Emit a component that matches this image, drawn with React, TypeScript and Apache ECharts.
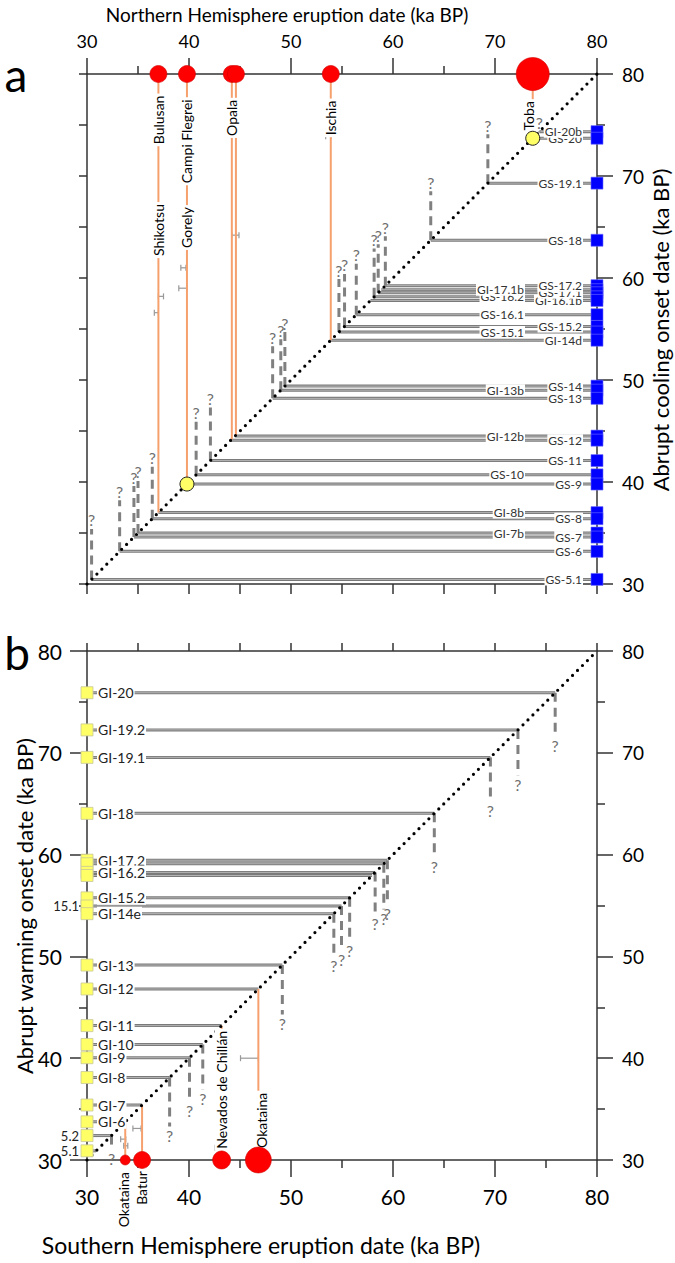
import React, { useEffect, useRef } from "react";
import * as echarts from "echarts";

// ---------------- axes ----------------
const axisMin = 30;
const axisMax = 80;
const majorStep = 10;
const minorStep = 5;

// ---------------- Panel a : abrupt cooling onsets (ka BP) ----------------
const coolLabels = ["GI-20b", "GS-20", "GS-19.1", "GS-18", "GS-17.2", "GI-17.1b", "GS-17.1", "GS-16.2", "GI-16.1b", "GS-16.1", "GS-15.2", "GS-15.1", "GI-14d", "GS-14", "GI-13b", "GS-13", "GI-12b", "GS-12", "GS-11", "GS-10", "GS-9", "GI-8b", "GS-8", "GI-7b", "GS-7", "GS-6", "GS-5.1"];
const coolOnsets = [74.35, 73.7, 69.3, 63.7, 59.25, 58.85, 58.55, 58.15, 57.8, 56.4, 55.25, 54.7, 53.9, 49.4, 49.0, 48.2, 44.5, 44.1, 42.1, 40.7, 39.8, 37.0, 36.4, 35.0, 34.6, 33.2, 30.45];
const coolLabelSide = ["r", "r", "r", "r", "r", "l", "r", "l", "r", "l", "r", "l", "r", "r", "l", "r", "l", "r", "r", "l", "r", "l", "r", "l", "r", "r", "r"];

// unmatched cooling events: dashed line from diagonal up to "?"
const coolDashOnset = [30.45, 33.2, 34.6, 35.0, 36.4, 40.7, 42.1, 48.2, 49.0, 49.4, 54.7, 55.25, 56.4, 58.15, 58.55, 59.25, 63.7, 69.3, 74.35];
const coolDashTop = [35.4, 38.2, 39.6, 40.1, 41.5, 45.9, 47.3, 53.3, 54.0, 54.7, 59.9, 60.4, 61.4, 62.9, 63.3, 64.1, 68.5, 74.1, 74.4];

// Northern Hemisphere eruptions
const nhEruptionDates = [37.0, 39.8, 44.2, 44.6, 53.9, 73.7];
const nhCircleSizes = [17, 17, 17, 17, 17, 33];
const nhNames = ["Bulusan", "Shikotsu", "Campi Flegrei", "Gorely", "Opala", "Ischia", "Toba"];
const nhNameDates = [37.0, 37.0, 39.8, 39.8, 44.2, 53.9, 73.3];
const nhNameHeights = [75.5, 64.7, 73.4, 64.95, 75.7, 75.7, 75.9];
const nhYellowDates = [73.7, 39.8];
const nhErrLo = [36.6, 37.0, 39.2, 39.0, 44.2, 53.4];
const nhErrHi = [37.0, 37.5, 39.7, 39.8, 44.9, 53.9];
const nhErrAt = [56.6, 58.2, 61.0, 59.0, 64.2, 73.9];

// ---------------- Panel b : abrupt warming onsets (ka BP) ----------------
const warmLabels = ["GI-20", "GI-19.2", "GI-19.1", "GI-18", "GI-17.2", "", "GI-16.2", "", "GI-15.2", "15.1", "GI-14e", "GI-13", "GI-12", "GI-11", "GI-10", "GI-9", "GI-8", "GI-7", "GI-6", "5.2", "5.1"];
const warmOnsets = [75.9, 72.25, 69.55, 64.05, 59.45, 59.1, 58.25, 57.95, 55.75, 54.95, 54.2, 49.15, 46.8, 43.2, 41.35, 40.05, 38.1, 35.4, 33.75, 32.4, 30.9];
const warmLabelSide = ["r", "r", "r", "r", "r", "r", "r", "r", "r", "l", "r", "r", "r", "r", "r", "r", "r", "r", "r", "l", "l"];

const warmDashOnset = [75.9, 72.25, 69.55, 64.05, 59.45, 59.1, 58.25, 55.75, 54.95, 54.2, 49.15, 41.35, 40.05, 38.1, 32.4];
const warmDashBottom = [71.6, 67.8, 65.2, 59.7, 55.1, 54.6, 54.1, 51.5, 50.6, 50.0, 44.3, 36.9, 35.7, 33.3, 31.0];

// Southern Hemisphere eruptions
const shEruptionDates = [33.75, 35.4, 43.2, 46.8];
const shCircleSizes = [10, 17, 18, 26];
const shNames = ["Okataina", "Batur", "Nevados de Chillán", "Okataina"];
const shNameDates = [33.6, 35.35, 43.2, 47.1];
const shNameHeights = [26.1, 27.25, 36.9, 33.9];
const shErrLo = [45.05, 42.55, 34.5, 33.3, 33.6];
const shErrHi = [46.8, 43.3, 35.3, 33.8, 34.0];
const shErrAt = [40.0, 31.2, 33.1, 32.05, 31.4];

// ---------------- styles ----------------
const FONT = "Lato, 'Open Sans', sans-serif";
const AXIS_COLOR = "#333";
const ORANGE = "#f6a06e";
const GREY = "#808080";

const axisLine = { color: AXIS_COLOR, width: 1.5 };

function valueAxis(extra: any) {
  return {
    type: "value",
    min: axisMin,
    max: axisMax,
    axisLine: { show: true, onZero: false, lineStyle: axisLine },
    splitLine: { show: false },
    minorSplitLine: { show: false },
    ...extra,
  };
}
const ticks = (len: number) => ({ show: true, length: len, lineStyle: axisLine });
const minor = (len: number) => ({ show: true, splitNumber: majorStep / minorStep, length: len, lineStyle: axisLine });
const labels = (size: number, margin: number) => ({ show: true, fontFamily: FONT, fontSize: size, color: "#000", margin });

function segSeries(xi: number, yi: number, segs: number[][], style: any, z: number, doubled = false) {
  return {
    type: "custom",
    xAxisIndex: xi,
    yAxisIndex: yi,
    z,
    silent: true,
    data: segs,
    renderItem: (_p: any, api: any) => {
      const a = api.coord([api.value(0), api.value(1)]);
      const b = api.coord([api.value(2), api.value(3)]);
      const shape = { x1: a[0], y1: a[1], x2: b[0], y2: b[1] };
      if (doubled) {
        return {
          type: "group",
          children: [
            { type: "line", shape, style: { stroke: "#7a7a7a", lineWidth: 3 } },
            { type: "line", shape, style: { stroke: "#c4c4c4", lineWidth: 0.8 } },
          ],
        };
      }
      return { type: "line", shape, style };
    },
  };
}

function textSeries(xi: number, yi: number, pts: number[][], texts: string[], styleOf: (i: number) => any, z: number) {
  return {
    type: "custom",
    xAxisIndex: xi,
    yAxisIndex: yi,
    z,
    silent: true,
    data: pts,
    renderItem: (params: any, api: any) => {
      const p = api.coord([api.value(0), api.value(1)]);
      const s = styleOf(params.dataIndex);
      return {
        type: "text",
        x: p[0] + (s.dx || 0),
        y: p[1] + (s.dy || 0),
        rotation: s.rotation || 0,
        style: {
          text: texts[params.dataIndex],
          font: s.font,
          fill: s.fill || "#000",
          align: s.align || "center",
          verticalAlign: s.verticalAlign || "middle",
          backgroundColor: s.bg,
          padding: s.padding,
        },
      };
    },
  };
}

function dashSeries(xi: number, yi: number, onsets: number[], ends: number[], up: boolean) {
  return {
    type: "custom",
    xAxisIndex: xi,
    yAxisIndex: yi,
    z: 3,
    silent: true,
    data: onsets.map((v, i) => [v, ends[i]]),
    renderItem: (_p: any, api: any) => {
      const v = api.value(0);
      const a = api.coord([v, v]);
      const b = api.coord([v, api.value(1)]);
      return {
        type: "group",
        children: [
          { type: "line", shape: { x1: a[0], y1: a[1], x2: b[0], y2: b[1] }, style: { stroke: GREY, lineWidth: 3, lineDash: [9, 6] } },
          {
            type: "text",
            x: b[0],
            y: up ? b[1] - 1 : b[1] + 1,
            style: { text: "?", font: `16px ${FONT}`, fill: "#707070", align: "center", verticalAlign: up ? "bottom" : "top" },
          },
        ],
      };
    },
  };
}

function errSeries(xi: number, yi: number, lo: number[], hi: number[], at: number[]) {
  return {
    type: "custom",
    xAxisIndex: xi,
    yAxisIndex: yi,
    z: 3,
    silent: true,
    data: lo.map((v, i) => [v, at[i], hi[i]]),
    renderItem: (_p: any, api: any) => {
      const a = api.coord([api.value(0), api.value(1)]);
      const b = api.coord([api.value(2), api.value(1)]);
      const st = { stroke: "#999", lineWidth: 1.2 };
      return {
        type: "group",
        children: [
          { type: "line", shape: { x1: a[0], y1: a[1], x2: b[0], y2: b[1] }, style: st },
          { type: "line", shape: { x1: a[0], y1: a[1] - 3, x2: a[0], y2: a[1] + 3 }, style: st },
          { type: "line", shape: { x1: b[0], y1: b[1] - 3, x2: b[0], y2: b[1] + 3 }, style: st },
        ],
      };
    },
  };
}

function buildOption() {
  // ---- panel a (x axis 0, y axis 0) ----
  const aOrder = coolOnsets.map((_, i) => i).reverse();
  const aLines = coolOnsets.map((v) => [v, v, axisMax, v]);
  const aLabelPts = aOrder.map((i) => [axisMax, coolOnsets[i]]);
  const aLabelTexts = aOrder.map((i) => coolLabels[i]);
  const aLabelSides = aOrder.map((i) => coolLabelSide[i]);

  // ---- panel b (x axis 3, y axis 2) ----
  const bLines = warmOnsets.map((v) => [axisMin, v, v, v]);
  const bIdx = warmLabels.map((_, i) => i).filter((i) => warmLabels[i] !== "");
  const bLabelPts = bIdx.map((i) => [axisMin, warmOnsets[i]]);
  const bLabelTexts = bIdx.map((i) => warmLabels[i]);
  const bLabelSides = bIdx.map((i) => warmLabelSide[i]);

  const smallLabel = (side: string) => ({
    dx: side === "r" ? -14 : -72,
    align: "right",
    font: `12px ${FONT}`,
    fill: "#333",
    bg: "#ffffff",
    padding: [0, 1],
  });

  return {
    animation: false,
    backgroundColor: "#ffffff",
    grid: [
      { left: 87, top: 74, width: 510, height: 510 },
      { left: 87, top: 651, width: 510, height: 509 },
    ],
    xAxis: [
      valueAxis({ gridIndex: 0, position: "top", interval: majorStep, axisTick: ticks(16), minorTick: minor(8), axisLabel: labels(18, 24) }),
      valueAxis({ gridIndex: 0, position: "bottom", interval: minorStep, axisTick: ticks(10), axisLabel: { show: false } }),
      valueAxis({ gridIndex: 1, position: "top", interval: minorStep, axisTick: ticks(8), axisLabel: { show: false } }),
      valueAxis({ gridIndex: 1, position: "bottom", interval: majorStep, axisTick: ticks(17), minorTick: minor(8), axisLabel: labels(21, 26) }),
    ],
    yAxis: [
      valueAxis({ gridIndex: 0, position: "right", interval: majorStep, axisTick: ticks(16), minorTick: minor(8), axisLabel: labels(19, 25) }),
      valueAxis({ gridIndex: 0, position: "left", interval: minorStep, axisTick: ticks(8), axisLabel: { show: false } }),
      valueAxis({ gridIndex: 1, position: "left", interval: majorStep, axisTick: ticks(17), minorTick: minor(8), axisLabel: labels(21, 25) }),
      valueAxis({ gridIndex: 1, position: "right", interval: majorStep, axisTick: ticks(16), minorTick: minor(8), axisLabel: labels(19, 25) }),
    ],
    graphic: [
      { type: "text", x: 16, y: 74, style: { text: "a", font: `46px ${FONT}`, fill: "#000", align: "center", verticalAlign: "middle" } },
      { type: "text", x: 17, y: 652, style: { text: "b", font: `46px ${FONT}`, fill: "#000", align: "center", verticalAlign: "middle" } },
      { type: "text", x: 287, y: 14, style: { text: "Northern Hemisphere eruption date (ka BP)", font: `19px ${FONT}`, fill: "#000", align: "center", verticalAlign: "middle" } },
      { type: "text", x: 261, y: 1245, style: { text: "Southern Hemisphere eruption date (ka BP)", font: `23px ${FONT}`, fill: "#000", align: "center", verticalAlign: "middle" } },
      { type: "text", x: 660, y: 330, rotation: Math.PI / 2, style: { text: "Abrupt cooling onset date (ka BP)", font: `22px ${FONT}`, fill: "#000", align: "center", verticalAlign: "middle" } },
      { type: "text", x: 24, y: 906, rotation: Math.PI / 2, style: { text: "Abrupt warming onset date (ka BP)", font: `22px ${FONT}`, fill: "#000", align: "center", verticalAlign: "middle" } },
    ],
    series: [
      // ---------- panel a ----------
      segSeries(0, 0, aLines, null, 2, true),
      dashSeries(0, 0, coolDashOnset, coolDashTop, true),
      errSeries(0, 0, nhErrLo, nhErrHi, nhErrAt),
      segSeries(0, 0, nhEruptionDates.map((x) => [x, axisMax, x, x]), { stroke: ORANGE, lineWidth: 2 }, 3),
      segSeries(0, 0, [[axisMin, axisMin, axisMax, axisMax]], { stroke: "#000", lineWidth: 3.2, lineDash: [0, 7], lineCap: "round" }, 4),
      textSeries(0, 0, aLabelPts, aLabelTexts, (i) => smallLabel(aLabelSides[i]), 5),
      textSeries(
        0,
        0,
        nhNameDates.map((x, i) => [x, nhNameHeights[i]]),
        nhNames,
        () => ({ rotation: Math.PI / 2, font: `14px ${FONT}`, fill: "#000", bg: "#ffffff", padding: [0, 2] }),
        5
      ),
      {
        type: "scatter",
        xAxisIndex: 0,
        yAxisIndex: 0,
        z: 6,
        clip: false,
        silent: true,
        data: nhEruptionDates.map((x) => [x, axisMax]),
        symbol: "circle",
        symbolSize: (_v: any, p: any) => nhCircleSizes[p.dataIndex],
        itemStyle: { color: "#ff0000", borderColor: "#d00000", borderWidth: 0.6, opacity: 1 },
      },
      {
        type: "scatter",
        xAxisIndex: 0,
        yAxisIndex: 0,
        z: 6,
        clip: false,
        silent: true,
        data: nhYellowDates.map((x) => [x, x]),
        symbolSize: 14,
        itemStyle: { color: "#ffff66", borderColor: "#222", borderWidth: 1, opacity: 1 },
      },
      {
        type: "scatter",
        xAxisIndex: 0,
        yAxisIndex: 0,
        z: 7,
        clip: false,
        silent: true,
        data: coolOnsets.map((v) => [axisMax, v]),
        symbol: "rect",
        symbolSize: [12, 12],
        itemStyle: { color: "#0000ff", borderColor: "#6b6bff", borderWidth: 0.6, opacity: 1 },
      },
      // ---------- panel b ----------
      segSeries(3, 2, bLines, null, 2, true),
      dashSeries(3, 2, warmDashOnset, warmDashBottom, false),
      errSeries(3, 2, shErrLo, shErrHi, shErrAt),
      segSeries(3, 2, shEruptionDates.map((x) => [x, x, x, axisMin]), { stroke: ORANGE, lineWidth: 2 }, 3),
      segSeries(3, 2, [[axisMin, axisMin, axisMax, axisMax]], { stroke: "#000", lineWidth: 3.2, lineDash: [0, 7], lineCap: "round" }, 4),
      textSeries(
        3,
        2,
        bLabelPts,
        bLabelTexts,
        (i) =>
          bLabelSides[i] === "r"
            ? { dx: 10, align: "left", font: `14px ${FONT}`, fill: "#222", bg: "#ffffff", padding: [0, 1] }
            : { dx: -8, align: "right", font: `13px ${FONT}`, fill: "#222" },
        5
      ),
      textSeries(
        3,
        2,
        shNameDates.map((x, i) => [x, shNameHeights[i]]),
        shNames,
        () => ({ rotation: Math.PI / 2, font: `14px ${FONT}`, fill: "#000", bg: "#ffffff", padding: [0, 2] }),
        5
      ),
      {
        type: "scatter",
        xAxisIndex: 3,
        yAxisIndex: 2,
        z: 6,
        clip: false,
        silent: true,
        data: shEruptionDates.map((x) => [x, axisMin]),
        symbol: "circle",
        symbolSize: (_v: any, p: any) => shCircleSizes[p.dataIndex],
        itemStyle: { color: "#ff0000", borderColor: "#d00000", borderWidth: 0.6, opacity: 1 },
      },
      {
        type: "scatter",
        xAxisIndex: 3,
        yAxisIndex: 2,
        z: 7,
        clip: false,
        silent: true,
        data: warmOnsets.map((v) => [axisMin, v]),
        symbol: "rect",
        symbolSize: [12, 12],
        itemStyle: { color: "#ffff66", borderColor: "#c8c89a", borderWidth: 0.8, opacity: 1 },
      },
    ],
  };
}

export default function App() {
  const ref = useRef<HTMLDivElement>(null);
  useEffect(() => {
    if (!ref.current) return;
    const chart = echarts.init(ref.current, null, { renderer: "svg" });
    chart.setOption(buildOption() as any);
    return () => chart.dispose();
  }, []);
  return (
    <div
      ref={ref}
      style={{ position: "absolute", left: 0, top: 0, width: 675, height: 1263, background: "#ffffff" }}
    />
  );
}
